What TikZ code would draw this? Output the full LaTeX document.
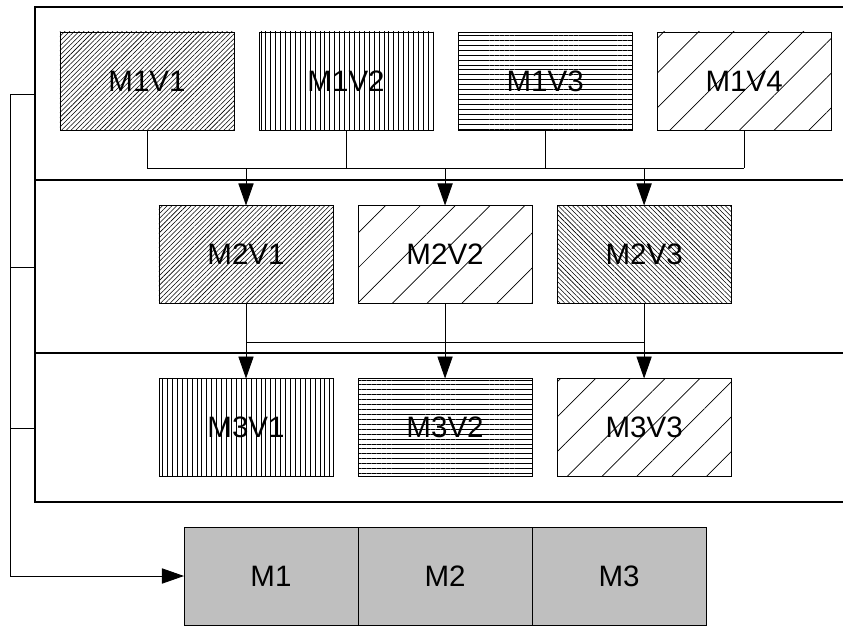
\documentclass[tikz,border=0pt]{standalone}
\usepackage{fontspec}
\setsansfont{Liberation Sans}
\usetikzlibrary{arrows.meta,positioning,patterns.meta}
\tikzset{pin/.style={-{Triangle[length=5.5mm, width=3.8mm]}},
  vm/.style={draw, line width=0.6pt, minimum width=4.35cm, minimum height=2.45cm, outer sep=0pt, inner sep=0pt},
  mem/.style={draw, line width=0.6pt, fill=gray!50!white, minimum width=4.35cm, minimum height=2.45cm, outer sep=0pt},
  dense/.style={pattern={Lines[angle=45, distance=2.4pt, line width=0.4pt]}},
  back/.style={pattern={Lines[angle=-45, distance=2.4pt, line width=0.4pt]}},
  wide/.style={pattern={Lines[angle=45, distance=17.5pt, line width=0.5pt]}},
  vert/.style={pattern={Lines[angle=90, distance=3.5pt, line width=0.5pt]}},
  horiz/.style={pattern={Lines[angle=0, distance=3.5pt, line width=0.5pt]}}}

\begin{document}
\begin{tikzpicture}[x=0.025cm, y=-0.025cm, font=\sffamily\fontsize{21}{25}\selectfont, node distance=6.25mm, line width=0.6pt]
  \useasboundingbox (0,0) rectangle (843,626);
  % outer frame with two dividers
  \draw[line width=0.8pt] (843,7) -- (35,7) -- (35,502) -- (843,502);
  \draw[line width=0.8pt] (35,180) -- (843,180);
  \draw[line width=0.8pt] (35,353) -- (843,353);
  % first row
  \node[vm, dense] (m1v1) at (147,81) {M1V1};
  \node[vm, vert, right=of m1v1] (m1v2) {M1V2};
  \node[vm, horiz, right=of m1v2] (m1v3) {M1V3};
  \node[vm, wide, right=of m1v3] (m1v4) {M1V4};
  % second row
  \node[vm, dense] (m2v1) at (246,254.5) {M2V1};
  \node[vm, wide, right=of m2v1] (m2v2) {M2V2};
  \node[vm, back, right=of m2v2] (m2v3) {M2V3};
  % third row
  \node[vm, vert, below=18.75mm of m2v1] (m3v1) {M3V1};
  \node[vm, horiz, right=of m3v1] (m3v2) {M3V2};
  \node[vm, wide, right=of m3v2] (m3v3) {M3V3};
  % memory blocks
  \node[mem] (mem1) at (271,576) {M1};
  \node[mem, right=0pt of mem1] (mem2) {M2};
  \node[mem, right=0pt of mem2] (mem3) {M3};
  % bus from row 1 to row 2
  \coordinate (bus1) at (0,168);
  \foreach \n in {m1v1,m1v2,m1v3,m1v4}{
    \draw (\n.south) -- (\n.south |- bus1);}
  \draw (m1v1.south |- bus1) -- (m1v4.south |- bus1);
  \foreach \n in {m2v1,m2v2,m2v3}{
    \draw[pin] (\n.north |- bus1) -- (\n.north);}
  % bus from row 2 to row 3
  \coordinate (bus2) at (0,342);
  \draw (m2v1.south |- bus2) -- (m2v3.south |- bus2);
  \draw[pin] (m2v1.south) -- (m3v1.north);
  \draw[pin] (m2v2.south) -- (m3v2.north);
  \draw[pin] (m2v3.south) -- (m3v3.north);
  % left bracket to memory
  \coordinate (lt) at (10,94);
  \draw[pin] (35,94) -- (lt) |- (mem1.west);
  \draw (35,267) -- (lt |- 0,267);
  \draw (35,428) -- (lt |- 0,428);
\end{tikzpicture}
\end{document}
